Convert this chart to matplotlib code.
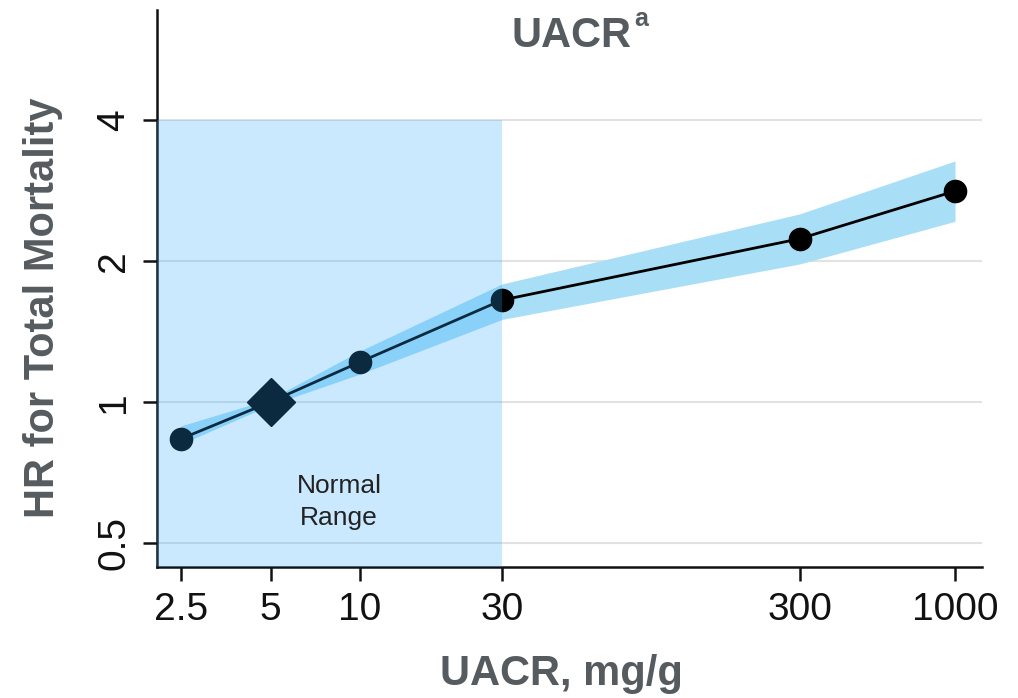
import numpy as np
import matplotlib
matplotlib.use('Agg')
import matplotlib.pyplot as plt
from matplotlib.ticker import FixedLocator, NullLocator

plt.rcParams['font.family'] = ['Liberation Sans', 'DejaVu Sans']

# values
uacr = [2.5, 5, 10, 30, 300, 1000]
hr = [0.834, 1.0, 1.217, 1.65, 2.23, 2.82]
hr_lo = [0.813, 0.985, 1.147, 1.50, 1.97, 2.43]
hr_hi = [0.889, 1.015, 1.285, 1.786, 2.52, 3.27]
ref_uacr = 5
normal_upper = 30
normal_top = 4
x_ticks = [2.5, 5, 10, 30, 300, 1000]
x_labels = ['2.5', '5', '10', '30', '300', '1000']
y_ticks = [0.5, 1, 2, 4]
y_labels = ['0.5', '1', '2', '4']

grey_txt = '#555b5e'
band_col = '#a8dff7'

fig = plt.figure(figsize=(10.18, 6.98), dpi=100)
ax = fig.add_axes([157/1018, 1 - 567/698, (982 - 157)/1018, (567 - 10)/698])

ax.set_xscale('log')
ax.set_yscale('log')
ax.set_xlim(2.076, 1232)
ax.set_ylim(0.444, 6.87)

# grid lines
for yt in y_ticks:
    ax.axhline(yt, color='#e2e2e2', lw=1.5, zorder=0)

# confidence band
ax.fill_between(uacr, hr_lo, hr_hi, color=band_col, lw=0, zorder=1)

# HR line and markers
ax.plot(uacr, hr, color='black', lw=2, zorder=2)
pts = [(x, y) for x, y in zip(uacr, hr) if x != ref_uacr]
ax.plot([p[0] for p in pts], [p[1] for p in pts], 'o', ms=16,
        color='black', zorder=3)
ax.plot([ref_uacr], [hr[uacr.index(ref_uacr)]], 'D', ms=24,
        color='black', zorder=3)

# normal range shading, semi transparent on top of everything
xmin, _ = ax.get_xlim()
ymin, _ = ax.get_ylim()
ax.fill_between([xmin, normal_upper], ymin, normal_top,
                color='#2daaff', alpha=0.25, lw=0, zorder=5)
ax.text(8.5, 0.612, 'Normal\nRange', ha='center', va='center',
        fontsize=19, color='#222222', linespacing=1.4, zorder=6)

# axes styling
for s in ['top', 'right']:
    ax.spines[s].set_visible(False)
for s in ['left', 'bottom']:
    ax.spines[s].set_linewidth(1.8)
    ax.spines[s].set_color('#111111')
    ax.spines[s].set_zorder(4)

ax.xaxis.set_major_locator(FixedLocator(x_ticks))
ax.xaxis.set_minor_locator(NullLocator())
ax.set_xticklabels(x_labels)
ax.yaxis.set_major_locator(FixedLocator(y_ticks))
ax.yaxis.set_minor_locator(NullLocator())
ax.set_yticklabels(y_labels, rotation=90, va='center')
ax.tick_params(axis='both', length=10, width=1.8, color='#111111',
               labelsize=28, pad=8, labelcolor='#111111')

ax.set_xlabel('UACR, mg/g', fontsize=30, fontweight='bold', color=grey_txt)
ax.set_ylabel('HR for Total Mortality', fontsize=30, fontweight='bold',
              color=grey_txt)
ax.xaxis.set_label_coords(0.49, -0.157)
ax.yaxis.set_label_coords(-0.114, 0.465)

fig.text(632/1018, 1 - 47/698, 'UACR', ha='right', va='baseline',
         fontsize=30, fontweight='bold', color=grey_txt)
fig.text(634/1018, 1 - 26/698, 'a', ha='left', va='baseline',
         fontsize=18, fontweight='bold', color=grey_txt)

fig.savefig('out.png', dpi=100)
